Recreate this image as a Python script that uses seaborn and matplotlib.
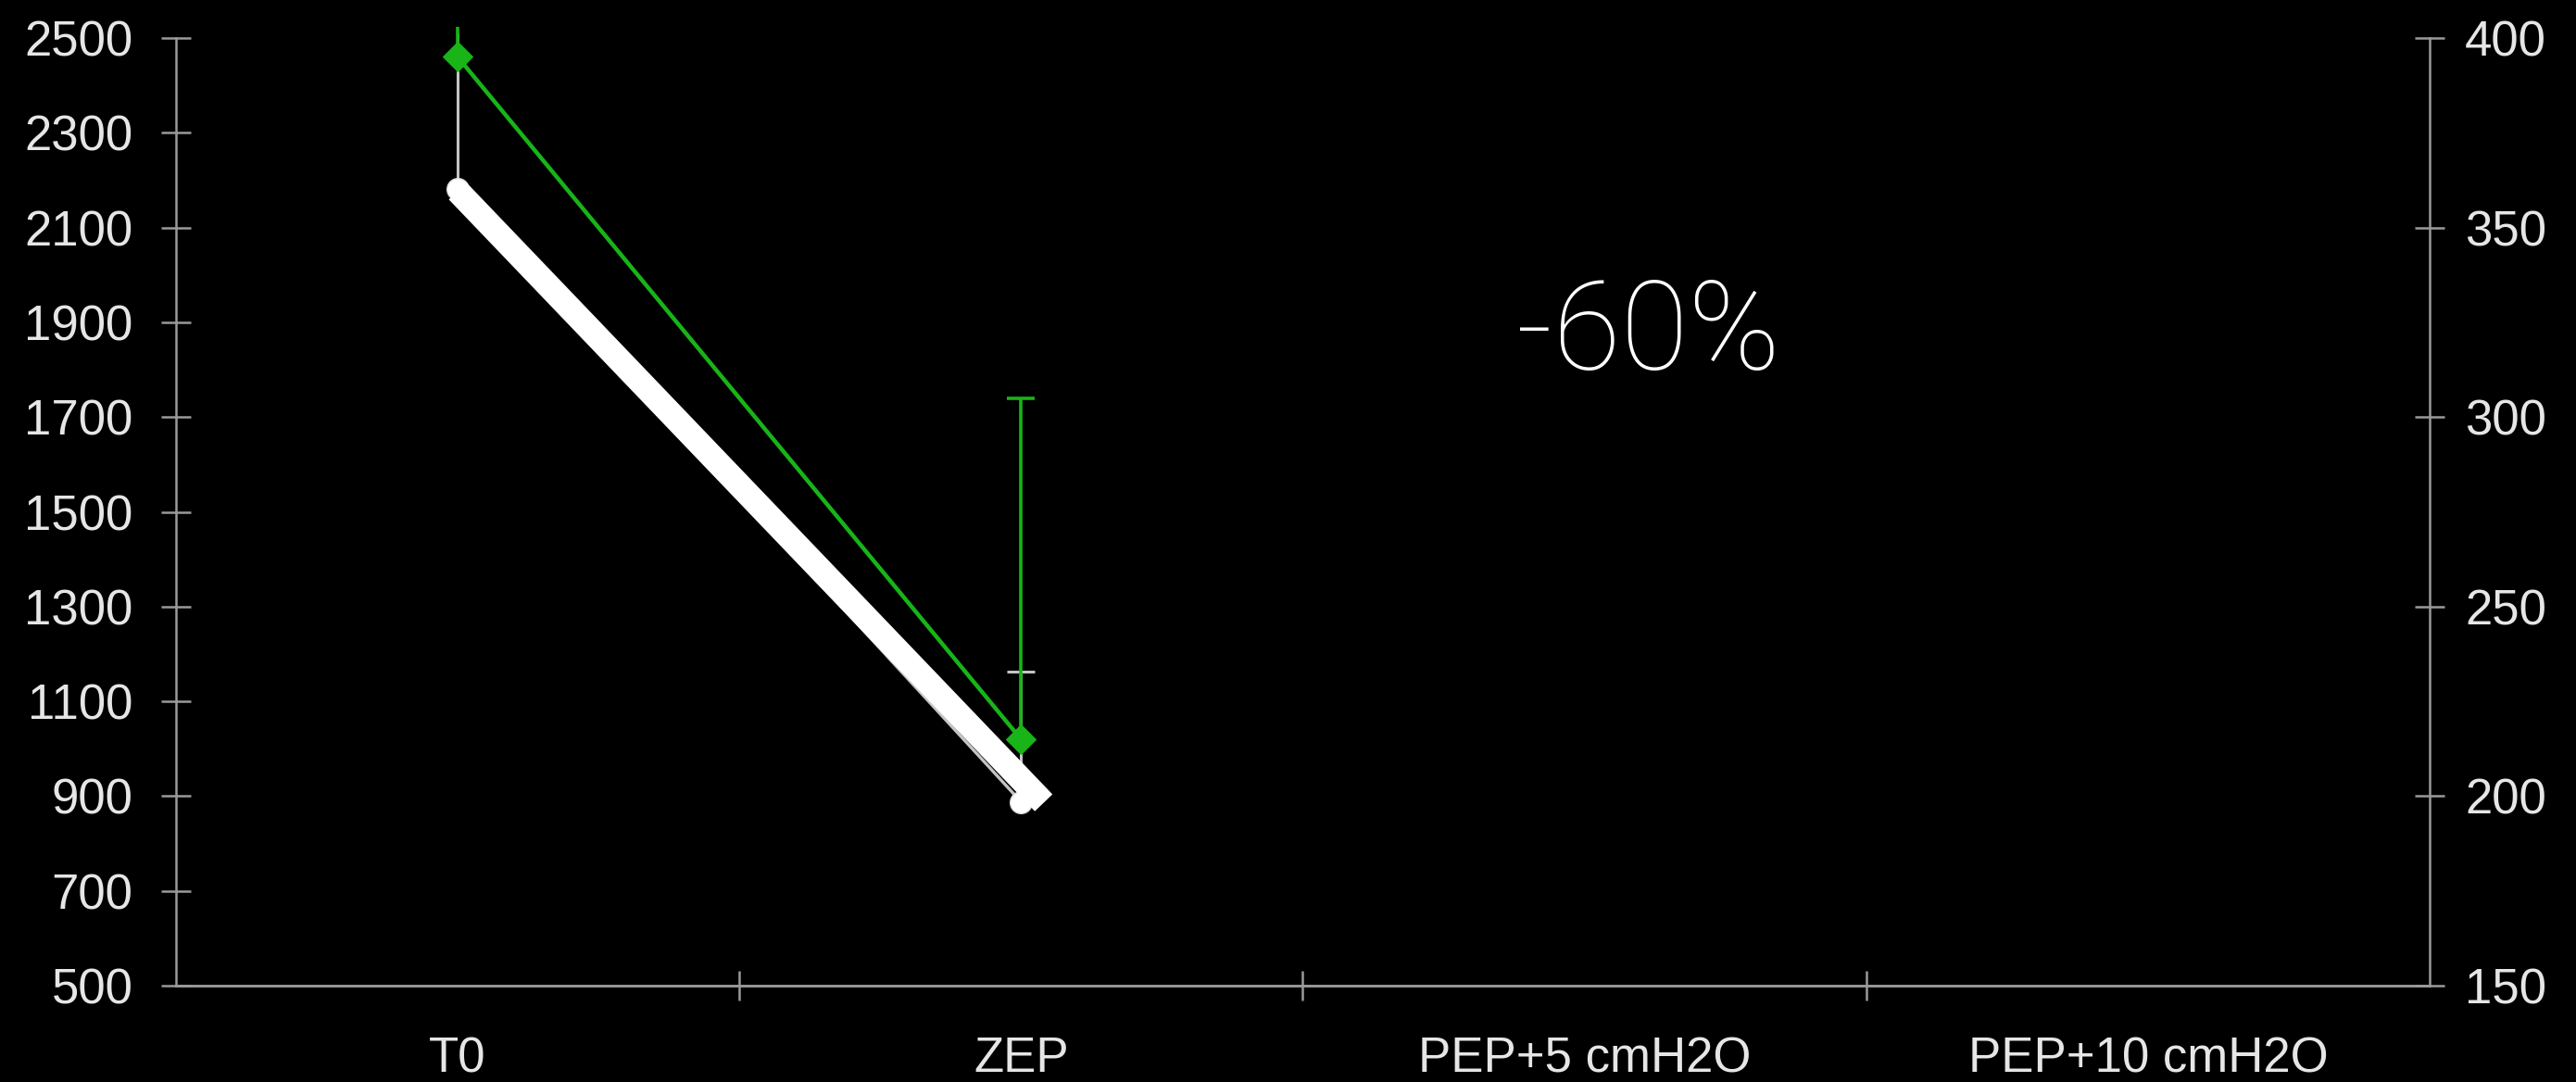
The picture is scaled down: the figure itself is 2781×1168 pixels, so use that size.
import matplotlib
matplotlib.use("Agg")
import matplotlib.pyplot as plt
import seaborn as sns
import pandas as pd
import numpy as np

# Measurement stages
stages = ["T0", "ZEP", "PEP+5 cmH2O", "PEP+10 cmH2O"]

# Left-axis series (grey, circles): means and upper error bounds
grey_mean = [2181, 888]
grey_upper = [2510, 1162]

# Right-axis series (green, diamonds): means and upper error bounds
green_mean = [395, 215]
green_upper = [403, 305]

left_ticks = list(range(500, 2501, 200))
right_ticks = list(range(150, 401, 50))

change_label = "-60%"

sns.set_theme(style="dark")
plt.rcParams["font.family"] = ["Liberation Sans", "DejaVu Sans"]

fig = plt.figure(figsize=(27.81, 11.68), dpi=100, facecolor="black")
ax = fig.add_axes([0.0683, 0.0890, 0.8749, 0.8759])
ax.set_facecolor("black")
ax2 = ax.twinx()
ax2.patch.set_visible(False)

n_pts = len(grey_mean)
df_grey = pd.DataFrame({"pos": np.arange(n_pts), "val": grey_mean})
df_green = pd.DataFrame({"pos": np.arange(n_pts), "val": green_mean})

grey_col = "#c4c4c4"
green_col = "#18b418"
axis_col = "#9a9a9a"
text_col = "#e6e6e6"


def upper_errorbars(axis, df, upper, color, lw):
    eb = axis.errorbar(df["pos"], df["val"],
                       yerr=[np.zeros(len(df)), np.array(upper) - df["val"].to_numpy()],
                       fmt="none", ecolor=color, elinewidth=lw, capsize=11, capthick=lw,
                       zorder=2)
    caps = eb[1]
    if caps:
        caps[0].set_visible(False)  # no cap at the lower (zero-length) end
        for cap in caps:
            cap.set_clip_on(True)
    for bar in eb[2]:
        bar.set_clip_on(False)


# grey series with upper error bars
upper_errorbars(ax, df_grey, grey_upper, grey_col, 2.2)
sns.lineplot(data=df_grey, x="pos", y="val", ax=ax, color=grey_col, linewidth=2.4,
             marker="o", markersize=17, markerfacecolor="white",
             markeredgecolor="#dddddd", markeredgewidth=1, zorder=3)

# highlighted drop between the first two stages
ax.plot(df_grey["pos"] + np.array([0.0, 0.04]), df_grey["val"] + np.array([-4, -2]),
        color="white", linewidth=19, solid_capstyle="butt", zorder=4)

# green series on the right axis
upper_errorbars(ax2, df_green, green_upper, green_col, 2.6)
sns.lineplot(data=df_green, x="pos", y="val", ax=ax2, color=green_col, linewidth=3.2,
             marker="D", markersize=16, markeredgecolor=green_col, zorder=3)

for a in (ax, ax2):
    a.set_xlim(-0.5, len(stages) - 0.5)
    a.set_xlabel("")
    a.set_ylabel("")
    a.grid(False)
    a.spines["top"].set_visible(False)
    for side in ("left", "right", "bottom"):
        a.spines[side].set_color(axis_col)
        a.spines[side].set_linewidth(1.8)

ax.set_ylim(500, 2500)
ax.set_yticks(left_ticks)
ax.set_yticklabels([str(t) for t in left_ticks])
ax2.set_ylim(150, 400)
ax2.set_yticks(right_ticks)
ax2.set_yticklabels([str(t) for t in right_ticks])
ax.spines["right"].set_visible(False)
ax2.spines["left"].set_visible(False)

ax.set_xticks(range(len(stages)))
ax.set_xticklabels(stages)
ax.set_xticks(np.arange(0.5, len(stages) - 0.5, 1.0), minor=True)
ax.tick_params(axis="x", which="major", length=0, pad=39, labelsize=38, labelcolor=text_col,
               bottom=True, labelbottom=True)
ax.tick_params(axis="x", which="minor", direction="inout", length=23, width=1.8,
               color=axis_col, bottom=True)
ax.tick_params(axis="y", which="major", direction="inout", length=23, width=1.8,
               color=axis_col, pad=22, labelsize=38, labelcolor=text_col)
ax2.tick_params(axis="y", which="major", direction="inout", length=23, width=1.8,
                color=axis_col, pad=16, labelsize=38, labelcolor=text_col,
                left=False, right=True, labelleft=False, labelright=True)
ax2.tick_params(axis="x", which="both", bottom=False, labelbottom=False)

ax.text(0.6535, 0.686, change_label, transform=ax.transAxes, ha="center", va="center",
        fontsize=96, color="white", family=["Roboto", "Liberation Sans", "DejaVu Sans"],
        fontweight="light")

fig.savefig("out.png", dpi=100, facecolor="black")
